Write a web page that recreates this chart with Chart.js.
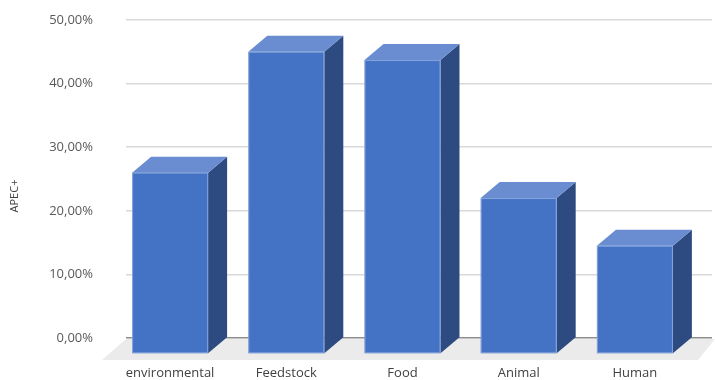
<!DOCTYPE html>
<html>
<head>
<meta charset="utf-8">
<script src="https://cdn.jsdelivr.net/npm/chart.js@4.4.1/dist/chart.umd.min.js"></script>
<style>
  html, body { margin: 0; padding: 0; background: #ffffff; }
  #wrap { width: 715px; height: 380px; }
</style>
</head>
<body>
<div id="wrap"><canvas id="barChart"></canvas></div>
<script>
const categories = ['environmental', 'Feedstock', 'Food', 'Animal', 'Human'];
const apecValues = [26, 45, 43.7, 22, 14.5];
const yTicks = [0, 10, 20, 30, 40, 50];
const axisTitle = 'APEC+';

// depth of the fake 3d columns
const depthX = 19;
const depthY = 16;

const fmtPct = v => v.toFixed(2).replace('.', ',') + '%';

const columns3d = {
    id: 'columns3d',
    beforeDatasetsDraw(chart) {
        const { ctx, chartArea } = chart;
        const y0 = chart.scales.y.getPixelForValue(0);
        // floor
        ctx.save();
        ctx.fillStyle = '#ebebeb';
        ctx.beginPath();
        ctx.moveTo(chartArea.left - 5, y0 + 1);
        ctx.lineTo(chartArea.right + 3, y0 + 1);
        ctx.lineTo(chartArea.right - 14, y0 + 22);
        ctx.lineTo(chartArea.left - 29, y0 + 22);
        ctx.closePath();
        ctx.fill();
        ctx.restore();
    },
    afterDatasetsDraw(chart) {
        const { ctx } = chart;
        const meta = chart.getDatasetMeta(0);
        ctx.save();
        meta.data.forEach(bar => {
            const w = bar.width;
            const left = bar.x - w / 2 - depthX;
            const right = left + w;
            const top = bar.y;
            const bottom = bar.base + depthY;

            // side
            ctx.fillStyle = '#2d4b80';
            ctx.beginPath();
            ctx.moveTo(right, top);
            ctx.lineTo(right + depthX, top - depthY);
            ctx.lineTo(right + depthX, bottom - depthY);
            ctx.lineTo(right, bottom);
            ctx.closePath();
            ctx.fill();

            // top
            ctx.fillStyle = '#698dd0';
            ctx.beginPath();
            ctx.moveTo(left, top);
            ctx.lineTo(left + depthX, top - depthY);
            ctx.lineTo(right + depthX, top - depthY);
            ctx.lineTo(right, top);
            ctx.closePath();
            ctx.fill();

            // front
            ctx.fillStyle = '#4472c4';
            ctx.fillRect(left, top, w, bottom - top);
            ctx.strokeStyle = 'rgba(170,195,235,0.6)';
            ctx.lineWidth = 1;
            ctx.strokeRect(left + 0.5, top + 0.5, w - 1, bottom - top - 1);
        });

        // rotated axis title
        ctx.fillStyle = '#404040';
        ctx.font = '11px "Open Sans"';
        ctx.textAlign = 'center';
        ctx.textBaseline = 'middle';
        ctx.translate(15, 196);
        ctx.rotate(-Math.PI / 2);
        ctx.fillText(axisTitle, 0, 0);
        ctx.restore();
    }
};

const ctx = document.getElementById('barChart').getContext('2d');
const barChart = new Chart(ctx, {
    type: 'bar',
    data: {
        labels: categories,
        datasets: [{
            label: axisTitle,
            data: apecValues,
            backgroundColor: 'rgba(0,0,0,0)',
            borderWidth: 0,
            categoryPercentage: 1,
            barPercentage: 0.654
        }]
    },
    options: {
        responsive: true,
        maintainAspectRatio: false,
        animation: false,
        layout: { padding: { top: 0, right: 3, left: 0, bottom: 0 } },
        scales: {
            x: {
                grid: { display: false, drawTicks: false },
                border: { display: false },
                ticks: {
                    color: '#404040',
                    font: { family: 'Open Sans', size: 13 },
                    padding: 27,
                    labelOffset: -depthX,
                    maxRotation: 0
                },
                afterFit: scale => { scale.height = 42; }
            },
            y: {
                min: 0,
                max: 50,
                afterBuildTicks: scale => {
                    scale.ticks = yTicks.map(v => ({ value: v }));
                },
                grid: {
                    color: c => (c.tick && c.tick.value === 0) ? '#8c8c8c' : '#d9d9d9',
                    lineWidth: 1.5,
                    drawTicks: true,
                    tickLength: 5
                },
                border: { display: false },
                ticks: {
                    color: '#595959',
                    font: { family: 'Open Sans', size: 13 },
                    padding: 33,
                    callback: v => fmtPct(v)
                },
                afterFit: scale => {
                    scale.width = 131;
                    // tick padding would otherwise be added above the plot
                    scale.paddingTop = 20;
                    scale.paddingBottom = 0;
                }
            }
        },
        plugins: {
            legend: { display: false },
            tooltip: { enabled: false }
        }
    },
    plugins: [columns3d]
});
</script>
</body>
</html>
